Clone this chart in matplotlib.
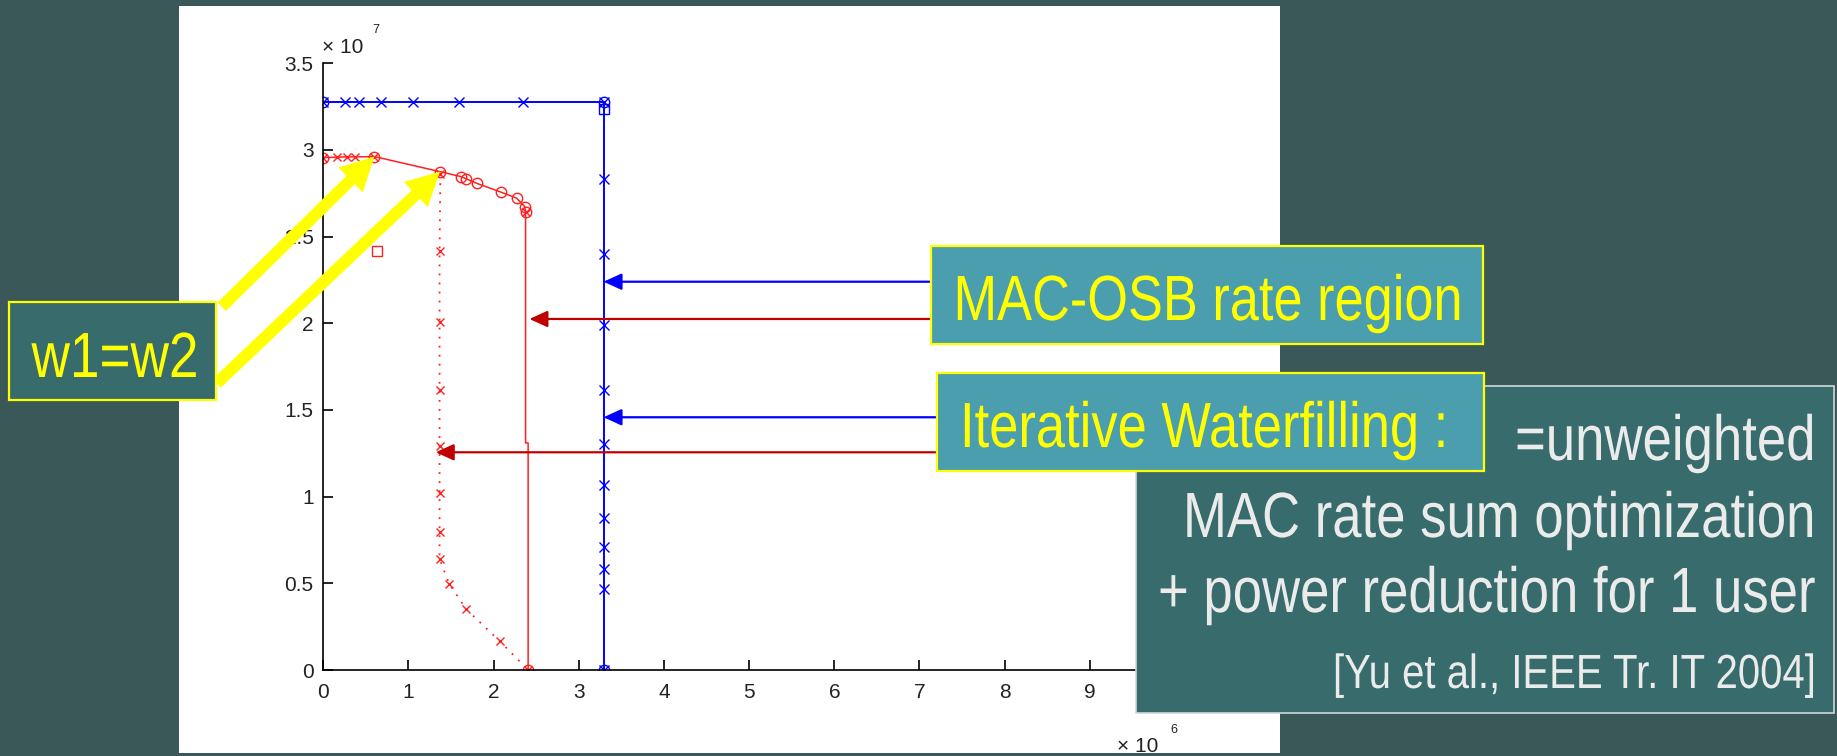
# -*- coding: utf-8 -*-
"""
Diapositiva: región de tasas MAC-OSB frente a Iterative Waterfilling.
Reproduce la figura de MATLAB pegada en la diapositiva con sus cuadros
de texto y flechas de anotación.
"""

import matplotlib
matplotlib.use("Agg")
import matplotlib.pyplot as plt
from matplotlib import font_manager
from matplotlib.patches import Rectangle
from matplotlib.patheffects import AbstractPathEffect
from matplotlib.ticker import FuncFormatter
from matplotlib.transforms import Affine2D

W, H = 1837, 756

# --- datos (x en unidades de 1e6, y en unidades de 1e7) -------------------
osb_azul_x = [0.0, 0.25, 0.42, 0.68, 1.05, 1.59, 2.35, 3.29,
              3.29, 3.29, 3.29, 3.29, 3.29, 3.29, 3.29, 3.29, 3.29, 3.29, 3.29]
osb_azul_y = [3.274, 3.274, 3.274, 3.274, 3.274, 3.274, 3.274, 3.274,
              2.83, 2.40, 1.99, 1.615, 1.305, 1.07, 0.875, 0.71, 0.585, 0.465, 0.0]
osb_azul_circ_x = [0.0, 3.29, 3.29]
osb_azul_circ_y = [3.274, 3.274, 0.0]
osb_azul_cuad_x = [3.29]
osb_azul_cuad_y = [3.235]

osb_rojo_x = [0.0, 0.16, 0.275, 0.37, 0.60, 1.37, 1.62, 1.68, 1.80, 2.09,
              2.27, 2.365, 2.375, 2.375, 2.405, 2.405]
osb_rojo_y = [2.956, 2.958, 2.96, 2.96, 2.962, 2.875, 2.846, 2.833, 2.808,
              2.756, 2.722, 2.673, 2.645, 1.31, 1.31, 0.0]
osb_rojo_cruz_x = [0.0, 0.16, 0.275, 0.37, 0.60, 2.375]
osb_rojo_cruz_y = [2.956, 2.958, 2.96, 2.96, 2.962, 2.645]
osb_rojo_circ_x = [0.0, 0.60, 1.37, 1.62, 1.68, 1.80, 2.09, 2.27, 2.365, 2.375, 2.405]
osb_rojo_circ_y = [2.956, 2.962, 2.875, 2.846, 2.833, 2.808, 2.756, 2.722,
                   2.673, 2.645, 0.0]
rojo_cuad_x = [0.627]
rojo_cuad_y = [2.42]

iwf_rojo_x = [1.375, 1.365, 1.365, 1.365, 1.365, 1.365, 1.365, 1.365,
              1.48, 1.68, 2.07, 2.405]
iwf_rojo_y = [2.86, 2.42, 2.005, 1.615, 1.295, 1.02, 0.795, 0.64,
              0.495, 0.35, 0.167, 0.0]

x_ticks = [0, 1, 2, 3, 4, 5, 6, 7, 8, 9, 10]
y_ticks = [0, 0.5, 1, 1.5, 2, 2.5, 3, 3.5]

# flechas de los cuadros hacia las curvas
flecha_y = [2.24, 2.025, 1.458, 1.256]
flecha_punta = [3.29, 2.42, 3.29, 1.32]
flecha_cola = [7.135, 7.135, 7.205, 7.205]
flecha_color = ["#0000ff", "#c00000", "#0000ff", "#c00000"]

# flechas amarillas "w1=w2": punta en datos, cola en píxeles (desde arriba)
w_punta_x = [0.60, 1.37]
w_punta_y = [2.962, 2.875]
w_cola_px = [(221.7, 306.7), (216.7, 383.3)]

FONDO = "#3b5858"
CAJA_OSCURA = "#386c6c"
CAJA_CLARA = "#4a9eae"
AMARILLO = "#ffff00"

nombres = {f.name for f in font_manager.fontManager.ttflist}
NORMAL = "Liberation Sans" if "Liberation Sans" in nombres else "DejaVu Sans"


class Estrechar(AbstractPathEffect):
    """Comprime el texto en horizontal alrededor de su punto de anclaje,
    como el texto estrechado de la diapositiva original."""

    def __init__(self, x_ancla, factor):
        super().__init__()
        self.x_ancla = x_ancla
        self.factor = factor

    def draw_path(self, renderer, gc, tpath, affine, rgbFace=None):
        t = Affine2D().translate(-self.x_ancla, 0).scale(self.factor, 1) \
            .translate(self.x_ancla, 0)
        renderer.draw_path(gc, tpath, affine + t, rgbFace)


def fx(x):
    return x / W


def fy(y):
    return 1 - y / H


def caja(fig, x0, y0, x1, y1, fc, ec, lw, z):
    fig.add_artist(Rectangle((fx(x0), fy(y1)), (x1 - x0) / W, (y1 - y0) / H,
                             transform=fig.transFigure, fc=fc, ec=ec, lw=lw,
                             zorder=z))


def texto(fig, x, y, s, ancho, color, ha, z, tam=46):
    """Texto en píxeles: altura fija, ancho comprimido al medido."""
    t = fig.text(fx(x), fy(y), s, ha=ha, va="baseline", color=color,
                 fontsize=tam, family=[NORMAL, "DejaVu Sans"], zorder=z)
    r = fig.canvas.get_renderer()
    w = t.get_window_extent(r).width
    t.set_path_effects([Estrechar(x, min(1.0, ancho / w))])
    return t


def _construir_figura():
    fig = plt.figure(figsize=(W / 100, H / 100), dpi=100)
    fig.patch.set_facecolor(FONDO)

    # panel blanco de la figura de MATLAB
    caja(fig, 179, 6, 1280, 753, "white", "none", 0, -1)

    x0, x1, y_cero, y_tope = 323.3, 1175.0, 670.0, 63.3
    ax = fig.add_axes([fx(x0), fy(y_cero), (x1 - x0) / W, (y_cero - y_tope) / H])
    ax.set_facecolor("none")
    ax.set_xlim(0, 10)
    ax.set_ylim(0, 3.5)

    ax.plot(osb_azul_x, osb_azul_y, "-x", color="#0000ff", lw=1.4, ms=6.5, mew=1.0)
    ax.plot(osb_azul_circ_x, osb_azul_circ_y, "o", color="#0000ff", mfc="none",
            ms=7.5, mew=1.0)
    ax.plot(osb_azul_cuad_x, osb_azul_cuad_y, "s", color="#0000ff", mfc="none",
            ms=7, mew=1.0)

    ax.plot(osb_rojo_x, osb_rojo_y, "-", color="#ff2020", lw=1.1)
    ax.plot(osb_rojo_cruz_x, osb_rojo_cruz_y, "x", color="#ff2020", ms=6, mew=1.0)
    ax.plot(osb_rojo_circ_x, osb_rojo_circ_y, "o", color="#ff2020", mfc="none",
            ms=7.5, mew=1.0)
    ax.plot(rojo_cuad_x, rojo_cuad_y, "s", color="#ff2020", mfc="none", ms=7, mew=1.0)
    ax.plot(iwf_rojo_x, iwf_rojo_y, "x", color="#ff2020", ms=6, mew=1.0,
            ls=(0, (1, 4)), lw=1.3)

    for s in ("top", "right"):
        ax.spines[s].set_visible(False)
    for s in ("left", "bottom"):
        ax.spines[s].set_linewidth(1.2)
    ax.set_xticks(x_ticks)
    ax.set_yticks(y_ticks)
    ax.yaxis.set_major_formatter(FuncFormatter(lambda v, p: f"{v:g}"))
    ax.tick_params(direction="in", length=7, width=1.2, labelsize=15,
                   labelcolor="#222222", labelfontfamily=NORMAL)
    ax.tick_params(axis="x", pad=9.5)
    ax.tick_params(axis="y", pad=7)

    # multiplicadores de los ejes
    fig.text(fx(322), fy(53), "× 10", fontsize=15, family=NORMAL, color="#222222")
    fig.text(fx(372), fy(33), "7", fontsize=9, family=NORMAL, color="#222222")
    fig.text(fx(1117), fy(752), "× 10", fontsize=15, family=NORMAL, color="#222222")
    fig.text(fx(1170), fy(733), "6", fontsize=9, family=NORMAL, color="#222222")

    # flechas finas desde los cuadros de texto
    for y, xp, xc, c in zip(flecha_y, flecha_punta, flecha_cola, flecha_color):
        ax.annotate("", xy=(xp, y), xytext=(xc, y), annotation_clip=False,
                    arrowprops=dict(arrowstyle="-|>,head_length=1.1,head_width=0.5",
                                    color=c, lw=1.6, shrinkA=0, shrinkB=0,
                                    mutation_scale=10))

    # flechas amarillas gruesas
    for xp, yp, (cx, cy) in zip(w_punta_x, w_punta_y, w_cola_px):
        ax.annotate("", xy=(xp, yp), xytext=(cx, H - cy),
                    textcoords="figure pixels", annotation_clip=False,
                    arrowprops=dict(arrowstyle="simple,head_length=2.4,"
                                    "head_width=2.5,tail_width=0.86",
                                    fc=AMARILLO, ec="none", shrinkA=0, shrinkB=0,
                                    mutation_scale=10))

    # cuadros de texto de la diapositiva
    caja(fig, 1136, 386, 1834, 713, CAJA_OSCURA, "#d0d8d8", 1.2, 4)
    caja(fig, 931, 246, 1483, 344, CAJA_CLARA, AMARILLO, 1.6, 5)
    caja(fig, 937, 373, 1484, 471, CAJA_CLARA, AMARILLO, 1.6, 5)
    caja(fig, 9, 302, 216, 400, CAJA_OSCURA, AMARILLO, 1.6, 5)

    texto(fig, 1208, 320, "MAC-OSB rate region", 509, AMARILLO, "center", 6)
    texto(fig, 1204, 447, "Iterative Waterfilling :", 488, AMARILLO, "center", 6)
    texto(fig, 115, 377, "w1=w2", 167, AMARILLO, "center", 6)

    blanco = "#ebebeb"
    texto(fig, 1815, 460, "=unweighted", 300, blanco, "right", 6)
    texto(fig, 1815, 537, "MAC rate sum optimization", 632, blanco, "right", 6)
    texto(fig, 1815, 612, "+ power reduction for 1 user", 657, blanco, "right", 6)
    texto(fig, 1815, 688, "[Yu et al., IEEE Tr. IT 2004]", 482, blanco, "right", 6,
          tam=34.5)
    return fig


fig = _construir_figura()
fig.savefig("out.png", dpi=100, facecolor=fig.get_facecolor())
plt.close(fig)
